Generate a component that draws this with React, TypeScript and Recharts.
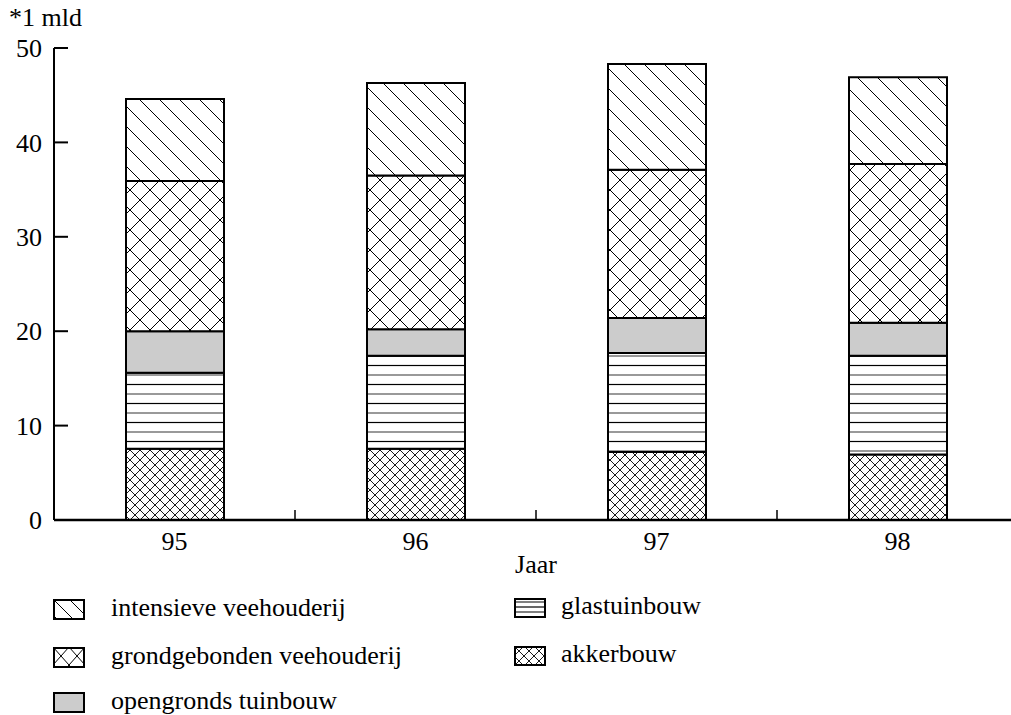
import React from 'react';
import { BarChart, Bar, XAxis, YAxis } from 'recharts';

const years = ['95', '96', '97', '98'];
const akkerbouw = [7.55, 7.55, 7.2, 6.95];
const glastuinbouw = [8.05, 9.85, 10.5, 10.45];
const opengrondsTuinbouw = [4.4, 2.8, 3.7, 3.5];
const grondgebondenVeehouderij = [15.9, 16.3, 15.7, 16.8];
const intensieveVeehouderij = [8.7, 9.8, 11.2, 9.2];
const yTicks = [0, 10, 20, 30, 40, 50];

const data = years.map((y, i) => ({
  year: y,
  akker: akkerbouw[i],
  glas: glastuinbouw[i],
  open: opengrondsTuinbouw[i],
  grond: grondgebondenVeehouderij[i],
  intens: intensieveVeehouderij[i],
}));

const FONT = '"Liberation Serif", "Times New Roman", serif';

const YTick = (props: any) => {
  const { x, y, payload } = props;
  return (
    <g>
      <line x1={x} y1={y} x2={x + 14} y2={y} stroke="#000" strokeWidth={2} />
      <text x={x - 12} y={y} dy="0.35em" textAnchor="end" fontFamily={FONT} fontSize={26} fill="#000">
        {payload.value}
      </text>
    </g>
  );
};

const XTick = (props: any) => {
  const { x, y, payload, index } = props;
  const off = payload.offset ?? 0;
  return (
    <g>
      {index < years.length - 1 && (
        <line x1={x + off} y1={y} x2={x + off} y2={y - 10} stroke="#000" strokeWidth={1.5} />
      )}
      <text x={x} y={y + 21} dy="0.35em" textAnchor="middle" fontFamily={FONT} fontSize={26} fill="#000">
        {payload.value}
      </text>
    </g>
  );
};

const Defs = () => (
  <defs>
    <pattern id="pIntens" patternUnits="userSpaceOnUse" width={20} height={20}>
      <rect width={20} height={20} fill="#fff" />
      <path d="M0,0 L20,20 M-5,15 L5,25 M15,-5 L25,5" stroke="#000" strokeWidth={1} />
    </pattern>
    <pattern id="pGrond" patternUnits="userSpaceOnUse" width={20} height={20}>
      <rect width={20} height={20} fill="#fff" />
      <path d="M0,0 L20,20 M20,0 L0,20" stroke="#000" strokeWidth={1} />
    </pattern>
    <pattern id="pAkker" patternUnits="userSpaceOnUse" width={10} height={10}>
      <rect width={10} height={10} fill="#fff" />
      <path d="M0,0 L10,10 M10,0 L0,10" stroke="#000" strokeWidth={0.9} />
    </pattern>
    <pattern id="pGlas" patternUnits="userSpaceOnUse" width={20} height={19}>
      <rect width={20} height={19} fill="#fff" />
      <line x1={0} y1={4.5} x2={20} y2={4.5} stroke="#000" strokeWidth={1.2} />
      <line x1={0} y1={14} x2={20} y2={14} stroke="#808080" strokeWidth={1.6} />
    </pattern>
    <pattern id="pIntensL" patternUnits="userSpaceOnUse" width={16} height={16}>
      <rect width={16} height={16} fill="#fff" />
      <path d="M0,0 L16,16 M-4,12 L4,20 M12,-4 L20,4" stroke="#000" strokeWidth={1} />
    </pattern>
    <pattern id="pGrondL" patternUnits="userSpaceOnUse" width={16} height={18}>
      <rect width={16} height={18} fill="#fff" />
      <path d="M0,0 L16,18 M16,0 L0,18" stroke="#000" strokeWidth={1} />
    </pattern>
    <pattern id="pGlasL" patternUnits="userSpaceOnUse" width={20} height={18}>
      <rect width={20} height={18} fill="#fff" />
      <line x1={0} y1={4} x2={20} y2={4} stroke="#808080" strokeWidth={2} />
      <line x1={0} y1={9} x2={20} y2={9} stroke="#000" strokeWidth={1.2} />
      <line x1={0} y1={14} x2={20} y2={14} stroke="#808080" strokeWidth={2} />
    </pattern>
  </defs>
);

const legendItems = [
  { label: 'intensieve veehouderij', fill: 'url(#pIntensL)', x: 53, y: 599, w: 32, h: 21, tx: 111 },
  { label: 'grondgebonden veehouderij', fill: 'url(#pGrondL)', x: 53, y: 647, w: 32, h: 21, tx: 111 },
  { label: 'opengronds tuinbouw', fill: '#cccccc', x: 53, y: 692, w: 32, h: 21, tx: 111 },
  { label: 'glastuinbouw', fill: 'url(#pGlasL)', x: 514, y: 598, w: 32, h: 20, tx: 561 },
  { label: 'akkerbouw', fill: 'url(#pAkker)', x: 514, y: 646, w: 32, h: 20, tx: 561 },
];

export default function App() {
  return (
    <div style={{ position: 'absolute', left: 0, top: 0, width: 1011, height: 715, overflow: 'hidden', background: '#fff' }}>
      <BarChart
        width={1030}
        height={715}
        data={data}
        margin={{ top: 48, right: 12, bottom: 140, left: 0 }}
        barCategoryGap={0}
      >
        <Defs />
        <XAxis
          dataKey="year"
          type="category"
          axisLine={{ stroke: '#000', strokeWidth: 2.5 }}
          tickLine={false}
          tickSize={0}
          tickMargin={0}
          tick={<XTick />}
          height={55}
          interval={0}
          label={{ value: 'Jaar', position: 'insideBottom', offset: 2, fontFamily: FONT, fontSize: 26, fill: '#000' }}
        />
        <YAxis
          type="number"
          domain={[0, 50]}
          ticks={yTicks}
          width={54}
          axisLine={{ stroke: '#000', strokeWidth: 2 }}
          tickLine={false}
          tickSize={0}
          tickMargin={0}
          tick={<YTick />}
          interval={0}
        />
        <Bar dataKey="akker" stackId="a" fill="url(#pAkker)" stroke="#000" strokeWidth={2} barSize={98} isAnimationActive={false} />
        <Bar dataKey="glas" stackId="a" fill="url(#pGlas)" stroke="#000" strokeWidth={2} barSize={98} isAnimationActive={false} />
        <Bar dataKey="open" stackId="a" fill="#cccccc" stroke="#000" strokeWidth={2} barSize={98} isAnimationActive={false} />
        <Bar dataKey="grond" stackId="a" fill="url(#pGrond)" stroke="#000" strokeWidth={2} barSize={98} isAnimationActive={false} />
        <Bar dataKey="intens" stackId="a" fill="url(#pIntens)" stroke="#000" strokeWidth={2} barSize={98} isAnimationActive={false} />
      </BarChart>
      <div style={{ position: 'absolute', left: 9, top: 3, fontFamily: FONT, fontSize: 26, lineHeight: '30px', color: '#000' }}>
        *1 mld
      </div>
      {legendItems.map((it) => (
        <div key={it.label}>
          <svg
            width={it.w}
            height={it.h}
            style={{ position: 'absolute', left: it.x, top: it.y }}
          >
            <rect x={1} y={1} width={it.w - 2} height={it.h - 2} fill={it.fill} stroke="#000" strokeWidth={2} />
          </svg>
          <div
            style={{
              position: 'absolute',
              left: it.tx,
              top: it.y + it.h / 2 - 19,
              fontFamily: FONT,
              fontSize: 26,
              lineHeight: '34px',
              color: '#000',
              whiteSpace: 'nowrap',
            }}
          >
            {it.label}
          </div>
        </div>
      ))}
    </div>
  );
}
